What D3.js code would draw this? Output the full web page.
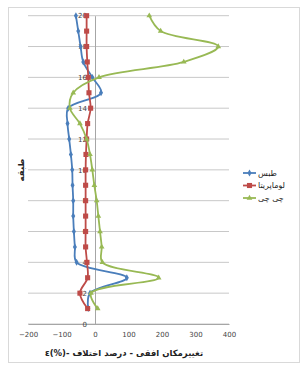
<!DOCTYPE html>
<meta charset="utf-8">
<style>
    body { margin: 0; background: white; }
    svg text { font-family: "DejaVu Sans", sans-serif; }
</style>
<body>
<div id="chart"></div>
<script src="https://d3js.org/d3.v7.min.js"></script>
<script>
// stories 1..20
let stories = d3.range(1, 21);
// طبس
let tabas = [-20, -15, 95, -55, -60, -63, -65, -65, -67, -68, -72, -77, -82, -80, 18, -8, -35, -43, -50, -57];
// لوماپریتا
let lomaPrieta = [-22, -45, -22, -24, -28, -28, -28, -28, -28, -28, -27, -25, -22, -13, -18, -20, -23, -25, -25, -25];
// چی چی
let chiChi = [8, -12, 190, 22, 20, 15, 10, 5, -2, -8, -15, -25, -45, -75, -65, 12, 265, 368, 196, 162];

let xTicks = [-200, -100, 0, 100, 200, 300, 400];
let yTicks = [0, 2, 4, 6, 8, 10, 12, 14, 16, 18, 20];

let series = [
    {name: "طبس", values: tabas, color: "#4a7ebb", marker: "diamond"},
    {name: "لوماپریتا", values: lomaPrieta, color: "#be4b48", marker: "square"},
    {name: "چی چی", values: chiChi, color: "#98b954", marker: "triangle"}
];

let width = 307, height = 366;
let svg = d3.select("#chart").append("svg")
    .attr("width", width)
    .attr("height", height);

// outer frame
svg.append("rect")
    .attr("x", 8.5).attr("y", 7.5)
    .attr("width", 291).attr("height", 355)
    .attr("fill", "white")
    .attr("stroke", "#d9d9d9");

let x = d3.scaleLinear().domain([-200, 400]).range([28, 229]);
let y = d3.scaleLinear().domain([0, 20]).range([324, 15.7]);

// gridlines
svg.append("g")
    .selectAll("line")
    .data(yTicks)
    .join("line")
    .attr("x1", x(-200)).attr("x2", x(400))
    .attr("y1", d => y(d)).attr("y2", d => y(d))
    .attr("stroke", "#c8c8c8")
    .attr("stroke-width", 1);

// x axis
let xAxis = svg.append("g")
    .attr("transform", `translate(0,${y(0)})`)
    .call(d3.axisBottom(x).tickValues(xTicks).tickSize(0).tickPadding(8).tickFormat(d3.format("d")));
xAxis.select(".domain").attr("stroke", "#a6a6a6");
xAxis.selectAll("text").attr("font-size", 7).attr("fill", "#444");

// y axis sits at x = 0
let yAxis = svg.append("g")
    .attr("transform", `translate(${x(0)},0)`)
    .call(d3.axisLeft(y).tickValues(yTicks).tickSize(0).tickPadding(8).tickFormat(d3.format("d")));
yAxis.select(".domain").attr("stroke", "#a6a6a6");
yAxis.selectAll("text").attr("font-size", 7).attr("fill", "#444");

let line = d3.line()
    .x(d => x(d[1]))
    .y(d => y(d[0]))
    .curve(d3.curveCatmullRom.alpha(0.5));

function markerPath(type) {
    if (type == "square") return d3.symbol(d3.symbolSquare, 26)();
    if (type == "triangle") return d3.symbol(d3.symbolTriangle, 14)();
    return d3.symbol(d3.symbolDiamond, 14)();
}

series.forEach(function(s) {
    let pts = stories.map((st, i) => [st, s.values[i]]);
    svg.append("path")
        .datum(pts)
        .attr("fill", "none")
        .attr("stroke", s.color)
        .attr("stroke-width", 1.8)
        .attr("d", line);
    svg.append("g")
        .selectAll("path")
        .data(pts)
        .join("path")
        .attr("transform", d => `translate(${x(d[1])},${y(d[0])})`)
        .attr("d", markerPath(s.marker))
        .attr("fill", s.color);
});

// legend
let legend = svg.append("g")
    .selectAll("g")
    .data(series)
    .join("g")
    .attr("transform", (d, i) => `translate(243,${173 + i * 12.5})`);
legend.append("line")
    .attr("x1", 0).attr("x2", 13)
    .attr("stroke", d => d.color)
    .attr("stroke-width", 1.8);
legend.append("path")
    .attr("transform", "translate(6.5,0)")
    .attr("d", d => markerPath(d.marker))
    .attr("fill", d => d.color);
legend.append("text")
    .attr("x", 15)
    .attr("dy", "0.35em")
    .attr("font-size", 8)
    .attr("fill", "#222")
    .text(d => d.name);

// axis titles
svg.append("text")
    .attr("x", 124).attr("y", 356)
    .attr("text-anchor", "middle")
    .attr("direction", "rtl")
    .style("direction", "rtl")
    .style("unicode-bidi", "embed")
    .attr("font-size", 8.5)
    .attr("font-weight", "bold")
    .attr("fill", "#222")
    .text("تغییرمکان افقی - درصد اختلاف -(%)ε");

svg.append("text")
    .attr("transform", "translate(24,170) rotate(-90)")
    .attr("text-anchor", "middle")
    .attr("font-size", 8.5)
    .attr("font-weight", "bold")
    .attr("fill", "#222")
    .text("طبقه");
</script>
</body>
